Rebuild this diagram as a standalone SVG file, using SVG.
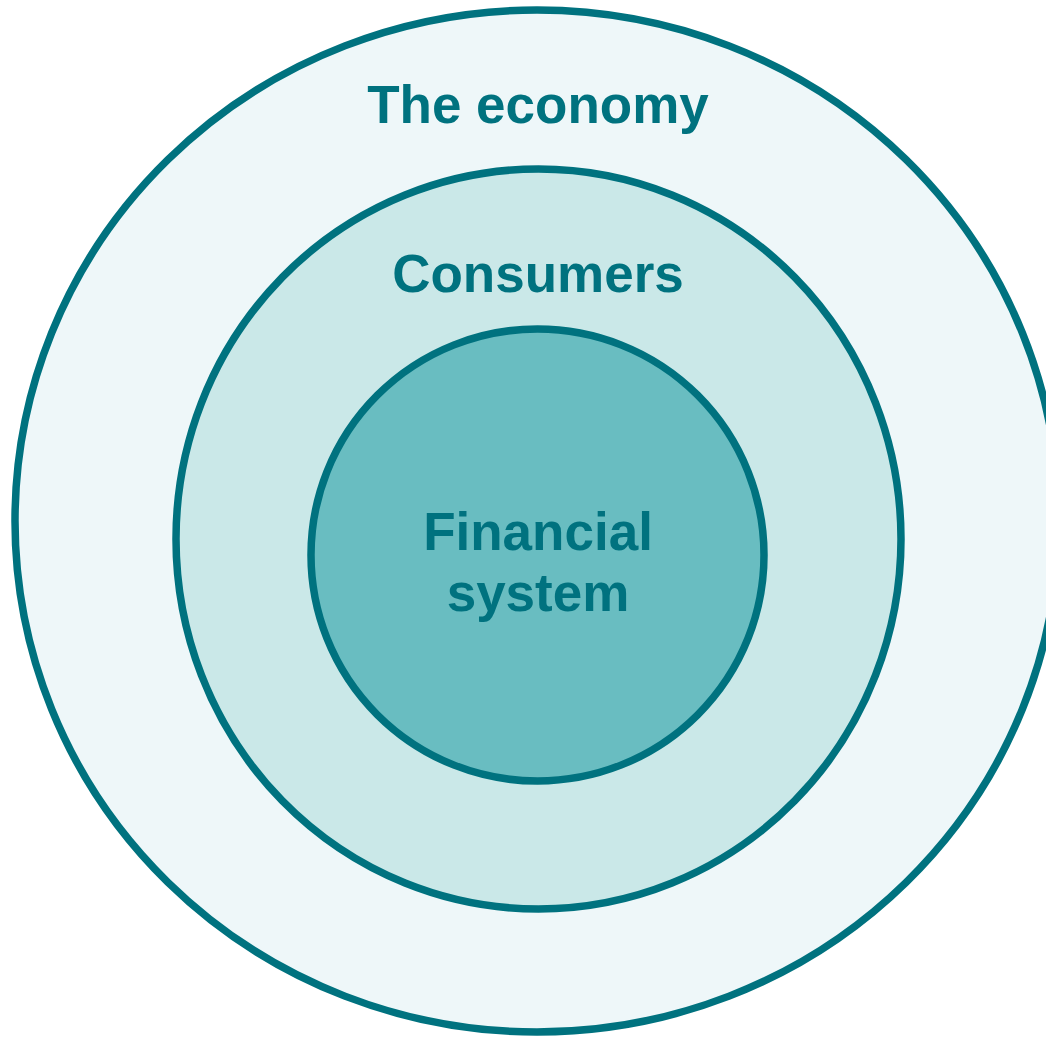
<svg xmlns="http://www.w3.org/2000/svg" width="1046" height="1038" viewBox="0 0 1046 1038">
<style>
.ring{stroke:#00727F;stroke-width:7.5}
.lbl{font-family:"Liberation Sans",Arial,sans-serif;font-weight:bold;font-size:53px;fill:#00727F;text-anchor:middle}
</style>
<rect width="1046" height="1038" fill="#ffffff"/>
<g id="economy">
<ellipse class="ring" cx="537" cy="521" rx="522" ry="511" fill="#EEF7F9"/>
<text class="lbl" x="538" y="123">The economy</text>
</g>
<g id="consumers">
<ellipse class="ring" cx="538.5" cy="539" rx="362.5" ry="370" fill="#CAE8E8"/>
<text class="lbl" x="538" y="292">Consumers</text>
</g>
<g id="financial-system">
<ellipse class="ring" cx="537.5" cy="555" rx="226.5" ry="226" fill="#69BDC1"/>
<text class="lbl" x="538" y="550" font-size="52">Financial</text>
<text class="lbl" x="538" y="611" font-size="52">system</text>
</g>
<g id="connectors"></g>
</svg>
